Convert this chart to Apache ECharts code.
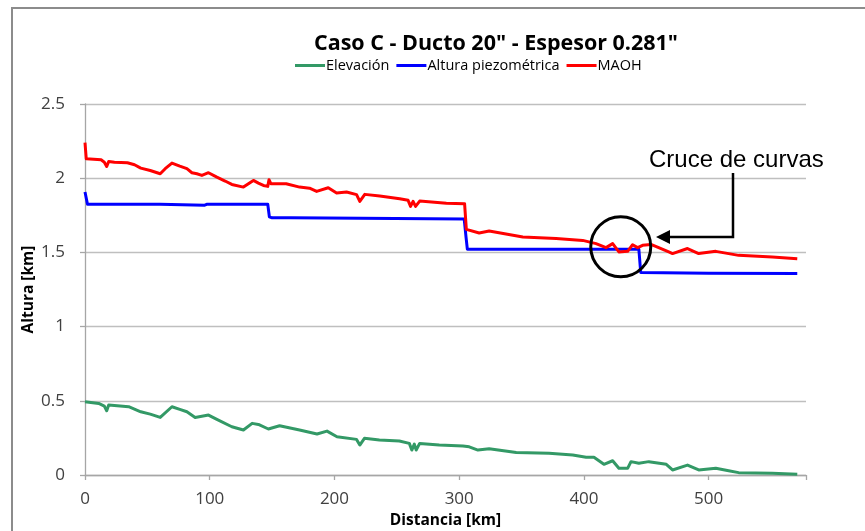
<!DOCTYPE html>
<html>
<head>
<meta charset="utf-8">
<script src="https://cdn.jsdelivr.net/npm/echarts@6/dist/echarts.min.js"></script>
<style>
  html, body { margin: 0; padding: 0; background: #fff; }
  #chart { width: 865px; height: 531px; }
</style>
</head>
<body>
<div id="chart"></div>
<script>
// Perfil del ducto: distancia [km] y alturas [km]
const xTicks = [0, 100, 200, 300, 400, 500];
const yTicks = [0, 0.5, 1, 1.5, 2, 2.5];

// Elevación del terreno
const elevKm  = [0, 11, 15.5, 17.4, 19, 35, 44.7, 52.3, 60.3, 69.7, 76, 81.7, 88.3, 99, 105.7, 117.7, 127, 134, 139, 147, 156, 172, 186, 194, 202, 217.7, 220.3, 224, 236, 252, 260, 262, 264, 265.5, 268.3, 284, 303, 308, 315, 324, 345.7, 372, 391, 401.7, 408, 416, 423, 428, 435, 437.7, 444, 452, 466, 471, 483, 492, 505.7, 516, 524, 551, 571];
const elevVal = [0.493, 0.482, 0.464, 0.433, 0.471, 0.46, 0.426, 0.41, 0.388, 0.46, 0.442, 0.426, 0.388, 0.404, 0.375, 0.325, 0.303, 0.348, 0.341, 0.31, 0.332, 0.303, 0.276, 0.296, 0.258, 0.24, 0.202, 0.247, 0.236, 0.229, 0.213, 0.168, 0.208, 0.168, 0.213, 0.202, 0.195, 0.19, 0.168, 0.177, 0.152, 0.146, 0.135, 0.119, 0.119, 0.072, 0.096, 0.045, 0.045, 0.09, 0.079, 0.09, 0.072, 0.034, 0.067, 0.034, 0.045, 0.029, 0.016, 0.011, 0.005];

// Altura piezométrica
const piezKm  = [0, 2, 60, 96, 98, 146.5, 147.8, 150, 165, 166, 304, 305.5, 306.5, 444, 445.5, 500, 571];
const piezVal = [1.907, 1.824, 1.825, 1.818, 1.825, 1.825, 1.74, 1.733, 1.733, 1.725, 1.725, 1.6, 1.522, 1.522, 1.365, 1.36, 1.357];

// MAOH
const maohKm  = [0, 1, 12.9, 15.5, 17.4, 19, 23.6, 34, 39.7, 44.7, 52.3, 60.3, 64.3, 69.7, 76, 81.7, 85.7, 89.7, 93.7, 99, 105.7, 112.3, 117.7, 127, 131, 135, 139, 143, 146.5, 147.5, 149, 161.3, 172, 180, 185.7, 195, 201.7, 209.7, 217.7, 220.3, 224.3, 236.3, 252.3, 259, 261, 263, 265, 268.3, 289.7, 304.3, 305.7, 316, 324, 351, 377.7, 399, 409.7, 417.7, 423, 428, 435, 439, 443, 447, 453.7, 468, 471, 483, 492, 505.7, 524, 551, 571];
const maohVal = [2.239, 2.131, 2.124, 2.108, 2.079, 2.113, 2.108, 2.104, 2.091, 2.068, 2.052, 2.03, 2.064, 2.102, 2.081, 2.064, 2.037, 2.03, 2.019, 2.037, 2.007, 1.981, 1.958, 1.94, 1.963, 1.985, 1.967, 1.951, 1.945, 1.99, 1.963, 1.963, 1.94, 1.933, 1.911, 1.936, 1.9, 1.907, 1.889, 1.844, 1.891, 1.88, 1.862, 1.851, 1.81, 1.844, 1.81, 1.846, 1.832, 1.828, 1.655, 1.631, 1.644, 1.604, 1.593, 1.581, 1.559, 1.532, 1.559, 1.503, 1.507, 1.552, 1.532, 1.548, 1.554, 1.503, 1.492, 1.526, 1.492, 1.507, 1.48, 1.469, 1.458];

const pairs = (xs, ys) => xs.map((x, i) => [x, ys[i]]);

const FONT = '"Open Sans", "Liberation Sans", sans-serif';
const chart = echarts.init(document.getElementById('chart'), null, { renderer: 'canvas' });

const option = {
  animation: false,
  backgroundColor: '#ffffff',
  title: {
    text: 'Caso C - Ducto 20" - Espesor 0.281"',
    left: 491, top: 28, textAlign: 'center',
    textStyle: { fontFamily: FONT, fontSize: 21.5, fontWeight: 'bold', color: '#000' }
  },
  legend: {
    top: 53, left: 290,
    itemWidth: 30, itemHeight: 3, itemGap: 7,
    icon: 'rect',
    textStyle: { fontFamily: FONT, fontSize: 14.5, color: '#000', padding: [0, 0, 0, -4] },
    data: ['Elevación', 'Altura piezométrica', 'MAOH']
  },
  grid: { left: 85, right: 59, top: 104, bottom: 56, containLabel: false, outerBoundsMode: 'none' },
  xAxis: {
    type: 'value', min: 0, max: 578, interval: 100,
    name: 'Distancia [km]', nameLocation: 'middle', nameGap: 38, nameMoveOverlap: false,
    nameTextStyle: { fontFamily: FONT, fontSize: 15.5, fontWeight: 'bold', color: '#000' },
    axisLine: { show: true, lineStyle: { color: '#a6a6a6', width: 1.3 } },
    axisTick: { show: true, length: 5, inside: false, lineStyle: { color: '#a6a6a6', width: 1.3 } },
    axisLabel: { fontFamily: FONT, fontSize: 17, color: '#404040', margin: 16,
      formatter: v => (xTicks.includes(v) ? String(v) : '') },
    splitLine: { show: false }
  },
  yAxis: {
    type: 'value', min: 0, max: 2.5, interval: 0.5,
    name: 'Altura [km]', nameLocation: 'middle', nameGap: 48, nameRotate: 90, nameMoveOverlap: false,
    nameTextStyle: { fontFamily: FONT, fontSize: 15.5, fontWeight: 'bold', color: '#000' },
    axisLine: { show: true, lineStyle: { color: '#a6a6a6', width: 1.3 } },
    axisTick: { show: true, length: 5, lineStyle: { color: '#a6a6a6', width: 1.3 } },
    axisLabel: { fontFamily: FONT, fontSize: 17, color: '#404040', margin: 20,
      formatter: v => (yTicks.includes(v) ? String(v) : '') },
    splitLine: { show: true, lineStyle: { color: '#bfbfbf', width: 1.3 } }
  },
  series: [
    { name: 'Elevación', type: 'line', data: pairs(elevKm, elevVal), showSymbol: false,
      lineStyle: { color: '#339966', width: 3, join: 'round' }, itemStyle: { color: '#339966' }, z: 3 },
    { name: 'Altura piezométrica', type: 'line', data: pairs(piezKm, piezVal), showSymbol: false,
      lineStyle: { color: '#0000ff', width: 3, join: 'round' }, itemStyle: { color: '#0000ff' }, z: 3 },
    { name: 'MAOH', type: 'line', data: pairs(maohKm, maohVal), showSymbol: false,
      lineStyle: { color: '#ff0000', width: 3, join: 'round' }, itemStyle: { color: '#ff0000' }, z: 4 }
  ]
};
chart.setOption(option);

// Marco del área del gráfico y anotación del cruce de curvas
const c = chart.convertToPixel({ gridIndex: 0 }, [429.5, 1.538]);
chart.setOption({
  graphic: [
    { type: 'polyline', shape: { points: [[12, 531], [12, 8], [865, 8]] },
      style: { stroke: '#8c8c8c', lineWidth: 2, fill: null }, silent: true },
    { type: 'circle', shape: { cx: c[0], cy: c[1], r: 30 },
      style: { stroke: '#000', lineWidth: 3, fill: null }, z: 100 },
    { type: 'polyline', shape: { points: [[733, 173], [733, 237], [668, 237]] },
      style: { stroke: '#000', lineWidth: 2.5, fill: null }, z: 100 },
    { type: 'polygon', shape: { points: [[656, 237], [670, 230], [670, 244]] },
      style: { fill: '#000' }, z: 100 },
    { type: 'text', left: 649, top: 148,
      style: { text: 'Cruce de curvas', fontFamily: '"Liberation Sans", Arial, sans-serif',
        fontSize: 24, fill: '#000' }, z: 100 }
  ]
});
</script>
</body>
</html>
